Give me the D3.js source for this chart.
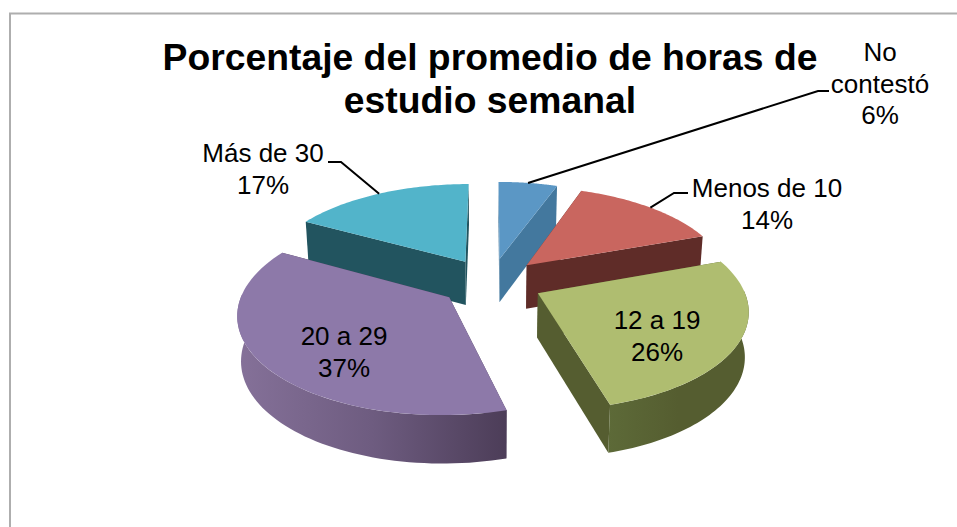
<!DOCTYPE html>
<html><head><meta charset="utf-8">
<script src="https://cdn.jsdelivr.net/npm/d3@7/dist/d3.min.js"></script>
<style>html,body{margin:0;padding:0;background:#fff}svg{display:block}text{font-family:"Liberation Sans",Arial,sans-serif;fill:#000}</style>
</head><body><svg id="c" width="957" height="527"></svg>
<script>
const categories = ["No contestó", "Menos de 10", "12 a 19", "20 a 29", "Más de 30"];
const values = [5.5, 14, 26.25, 37.25, 17];
const percentLabels = ["6%", "14%", "26%", "37%", "17%"];
const titleLines = ["Porcentaje del promedio de horas de", "estudio semanal"];
const topColors = ["#5b97c5", "#c9665f", "#afbd70", "#8d79a9", "#52b4ca"];
const sideColors = ["#43789e", "#5f2c28", "#555d30", "#4c3d58", "#22545f"];
const wallStops = [null, null, ["#555d30", "#555d30", "#5d6a38"], ["#857199", "#6e5c80", "#4c3d58"], null];

// projection of the tilted pie (perspective)
const cx = 491, cy = 282, R = 203.5, A = 95, P = 0.15, EXPLODE = 0.255, DEPTH = 44, SHRINK = 0.015;
const proj = (X, Y, z = 0) => {
  const s = 1 / (1 - P * Y);
  return [cx + X * R * s * (1 - SHRINK * z), cy + A * Y * s + z * DEPTH * Math.sqrt(s)];
};
const svg = d3.select("#c");
const defs = svg.append("defs");

// frame
svg.append("path").attr("d", "M10,527V13.5H957").attr("fill", "none").attr("stroke", "#aeaeae").attr("stroke-width", 2);

const arcs = d3.pie().sort(null).value(d => d)(values);
const pt = (a, off, r, z) => proj(off[0] + r * Math.sin(a), off[1] - r * Math.cos(a), z);
const lineGen = d3.line();
const drawOrder = [0, 4, 1, 2, 3];
const slices = arcs.map((d, i) => {
  const mid = (d.startAngle + d.endAngle) / 2;
  return { d, i, mid, off: [EXPLODE * Math.sin(mid), -EXPLODE * Math.cos(mid)] };
});
const sample = (a0, a1) => d3.range(0, 61).map(k => a0 + (a1 - a0) * k / 60);

const gSlices = svg.append("g");
drawOrder.forEach(i => {
  const s = slices[i], g = gSlices.append("g");
  const a0 = s.d.startAngle, a1 = s.d.endAngle, off = s.off;
  // cut faces
  [a0, a1].forEach(a => {
    g.append("path").attr("fill", sideColors[i]).attr("d", lineGen([
      pt(a, off, 0, 0), pt(a, off, 1, 0), pt(a, off, 1, 1), pt(a, off, 0, 1)]) + "Z");
  });
  // outer wall (only what faces the viewer)
  const w0 = Math.max(a0, Math.PI * 0.49), w1 = Math.min(a1, Math.PI * 1.51);
  if (w1 > w0) {
    const as = sample(w0, w1);
    const pts = as.map(a => pt(a, off, 1, 0)).concat(as.slice().reverse().map(a => pt(a, off, 1, 1)));
    let fill = sideColors[i];
    if (wallStops[i]) {
      const xs = pts.map(p => p[0]);
      const id = "wall" + i;
      const lg = defs.append("linearGradient").attr("id", id).attr("gradientUnits", "userSpaceOnUse")
        .attr("x1", d3.min(xs)).attr("x2", d3.max(xs)).attr("y1", 0).attr("y2", 0);
      const stops = i === 2 ? wallStops[i].slice().reverse() : wallStops[i];
      stops.forEach((c, k) => lg.append("stop").attr("offset", k / (stops.length - 1)).attr("stop-color", c));
      fill = `url(#${id})`;
    }
    g.append("path").attr("fill", fill).attr("d", lineGen(pts) + "Z");
  }
  // top face
  const topPts = [pt(a0, off, 0, 0)].concat(sample(a0, a1).map(a => pt(a, off, 1, 0)));
  g.append("path").attr("fill", topColors[i]).attr("d", lineGen(topPts) + "Z");
});

// leader lines: start on the slice's rim, run to an elbow near the label
const leaders = [
  { i: 0, elbow: [818, 91], end: [829, 91] },
  { i: 1, elbow: [674, 193], end: [688, 193] },
  { i: 4, elbow: [341, 162], end: [328, 162] }
];
leaders.forEach(l => {
  const s = slices[l.i];
  svg.append("path").attr("fill", "none").attr("stroke", "#000").attr("stroke-width", 2)
    .attr("d", lineGen([pt(s.mid, s.off, 1, 0), l.elbow, l.end]));
});

// title
const titlePos = [70, 113];
titleLines.forEach((t, k) => svg.append("text").text(t)
  .attr("x", 490).attr("y", titlePos[k]).attr("text-anchor", "middle")
  .attr("font-size", 37.3).attr("font-weight", "bold"));

// data labels
const labelFont = 26;
const labelPos = [
  { x: 880, ys: [61, 93, 124], lines: ["No", "contestó", percentLabels[0]] },
  { x: 767, ys: [197, 229], lines: [categories[1], percentLabels[1]] },
  { x: 657, ys: [329, 361], lines: [categories[2], percentLabels[2]] },
  { x: 344, ys: [345, 377], lines: [categories[3], percentLabels[3]] },
  { x: 263, ys: [162, 194], lines: [categories[4], percentLabels[4]] }
];
labelPos.forEach(l => l.lines.forEach((t, k) => svg.append("text").text(t)
  .attr("x", l.x).attr("y", l.ys[k]).attr("text-anchor", "middle").attr("font-size", labelFont)));
</script></body></html>
